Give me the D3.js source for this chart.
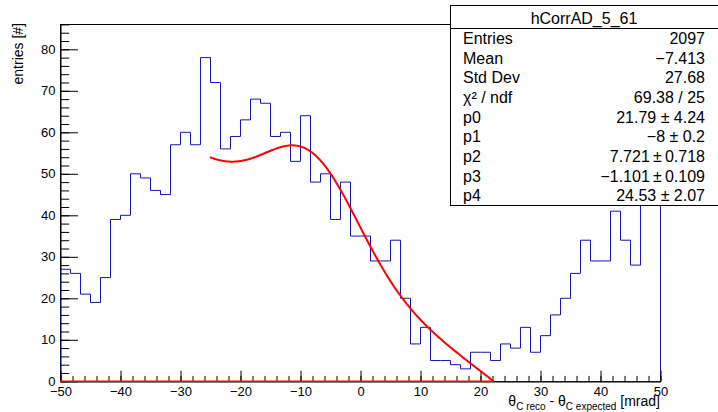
<!DOCTYPE html>
<html><head><meta charset="utf-8">
<script src="https://cdn.jsdelivr.net/npm/d3@7"></script>
<style>
html,body{margin:0;padding:0;background:#fff;}
svg{display:block;font-family:"Liberation Sans",Arial,Helvetica,sans-serif;}
</style></head><body>
<svg id="c" width="718" height="412"></svg>
<script>
// ---------- data ----------
const xRange = [-50, 50];
const counts = [27,26,21,19,25,39,40,50,49,46,
                45,57,60,57,78,72,56,59,63,68,
                67,59,60,53,64,48,50,39,48,35,
                35,29,29,34,20,9,13,5,5,4,
                3,7,7,5,9,8,13,7,11,16,
                20,26,34,29,29,41,34,28,50,57];
const yMax = 86.1;
const xTicks = [-50,-40,-30,-20,-10,0,10,20,30,40,50];
const yTicks = [0,10,20,30,40,50,60,70,80];
const fitParams = [21.79, -8, 7.721, -1.101, 24.53];
const fitRange = [-25, 25];
const statsTitle = "hCorrAD_5_61";
const statNames = ["Entries","Mean","Std Dev","\u03C7\u00B2 / ndf","p0","p1","p2","p3","p4"];
const statValues = ["2097","\u22127.413","27.68","69.38 / 25","21.79 \u00B1 4.24","\u22128 \u00B1 0.2","7.721\u2009\u00B1\u20090.718","\u22121.101\u2009\u00B1\u20090.109","24.53 \u00B1 2.07"];

// ---------- layout ----------
const W = 718, H = 412;
const L = 60, R = 660, T = 24, B = 381.3;
const svg = d3.select("#c");
const x = d3.scaleLinear().domain(xRange).range([L, R]);
const y = d3.scaleLinear().domain([0, yMax]).range([B, T]);

// frame
svg.append("rect").attr("x", L + 0.5).attr("y", T + 0.5).attr("width", R - L).attr("height", B - T)
  .attr("fill", "none").attr("stroke", "#000").attr("stroke-width", 1);

// histogram outline
const bw = (xRange[1] - xRange[0]) / counts.length;
let p = d3.path();
p.moveTo(x(xRange[0]), y(0));
counts.forEach((c, i) => {
  const x0 = xRange[0] + i * bw, x1 = x0 + bw;
  p.lineTo(x(x0), y(c));
  p.lineTo(x(x1), y(c));
});
p.lineTo(x(xRange[1]), y(0));
svg.append("path").attr("d", p.toString()).attr("transform", "translate(0.5,0)")
  .attr("fill", "none").attr("stroke", "#1414b4").attr("stroke-width", 1);

// axes
function styleAxis(g) {
  g.attr("font-family", null).attr("font-size", 13);
  g.selectAll("text").attr("fill", "#000");
  g.selectAll("line,path").attr("stroke", "#000");
}
const yMinor = svg.append("g").attr("transform", `translate(${L + 0.5},0)`)
  .call(d3.axisLeft(y).tickValues(d3.range(0, yMax, 2)).tickSize(-8.7).tickFormat(""));
yMinor.select(".domain").remove();
styleAxis(yMinor);
const yAx = svg.append("g").attr("transform", `translate(${L + 0.5},0)`)
  .call(d3.axisLeft(y).tickValues(yTicks).tickSize(-17.5).tickSizeOuter(0).tickPadding(5));
styleAxis(yAx);

const xMinor = svg.append("g").attr("transform", `translate(0.5,${B})`)
  .call(d3.axisBottom(x).tickValues(d3.range(xRange[0], xRange[1] + 0.01, 2)).tickSize(-5.4).tickFormat(""));
xMinor.select(".domain").remove();
styleAxis(xMinor);
const xAx = svg.append("g").attr("transform", `translate(0.5,${B})`)
  .call(d3.axisBottom(x).tickValues(xTicks).tickSize(-10.7).tickSizeOuter(0).tickPadding(5.5));
styleAxis(xAx);

// fit function
const f = v => fitParams[0] * Math.exp(-0.5 * Math.pow((v - fitParams[1]) / fitParams[2], 2)) + fitParams[3] * v + fitParams[4];
const samples = d3.range(fitRange[0], fitRange[1] + 1e-9, 0.1);
let pts = [];
for (let i = 0; i < samples.length; i++) {
  const v = samples[i], fv = f(v);
  if (fv >= 0) { pts.push([v, fv]); }
  else {
    const pv = samples[i - 1], pf = f(pv);
    const z = pv + (v - pv) * pf / (pf - fv);
    pts.push([z, 0]);
    break;
  }
}
const zeroX = pts[pts.length - 1][0];
const line = d3.line().x(d => x(d[0])).y(d => y(d[1])).curve(d3.curveLinear);
svg.append("path").attr("d", line([[xRange[0], 0], [zeroX, 0]]))
  .attr("fill", "none").attr("stroke", "#ff0000").attr("stroke-width", 1.5);
svg.append("path").attr("d", line(pts))
  .attr("fill", "none").attr("stroke", "#ff0000").attr("stroke-width", 2).attr("stroke-linejoin", "round");

// axis titles
const yt = svg.append("text").attr("transform", `translate(23,${T - 1}) rotate(-90)`)
  .attr("text-anchor", "end").attr("font-size", 14).attr("fill", "#000").text("entries [#]");

const xt = svg.append("text").attr("x", R).attr("y", 406).attr("text-anchor", "end")
  .attr("font-size", 14).attr("fill", "#000");
xt.append("tspan").text("\u03B8");
xt.append("tspan").attr("font-size", 10).attr("dy", 4).text("C reco");
xt.append("tspan").attr("dy", -4).text(" - \u03B8");
xt.append("tspan").attr("font-size", 10).attr("dy", 4).text("C expected");
xt.append("tspan").attr("dy", -4).text(" [mrad]");

// stats box
const bx = 450.5, by = 5.5, bxr = 730, byb = 205.5;
svg.append("rect").attr("x", bx).attr("y", by).attr("width", bxr - bx).attr("height", byb - by)
  .attr("fill", "#fff").attr("stroke", "#000").attr("stroke-width", 1);
const hdr = 28.5;
svg.append("line").attr("x1", bx).attr("x2", bxr).attr("y1", hdr).attr("y2", hdr).attr("stroke", "#000");
svg.append("text").attr("x", 584).attr("y", 23.5).attr("text-anchor", "middle")
  .attr("font-size", 16).attr("fill", "#000").text(statsTitle);
const rowH = (byb - hdr) / statNames.length;
statNames.forEach((n, i) => {
  const cy = hdr + rowH * (i + 0.5) + 5.7;
  svg.append("text").attr("x", 463).attr("y", cy).attr("font-size", 16).attr("fill", "#000").text(n);
  svg.append("text").attr("x", 705).attr("y", cy).attr("text-anchor", "end").attr("font-size", 16).attr("fill", "#000").text(statValues[i]);
});
</script>
</body></html>
